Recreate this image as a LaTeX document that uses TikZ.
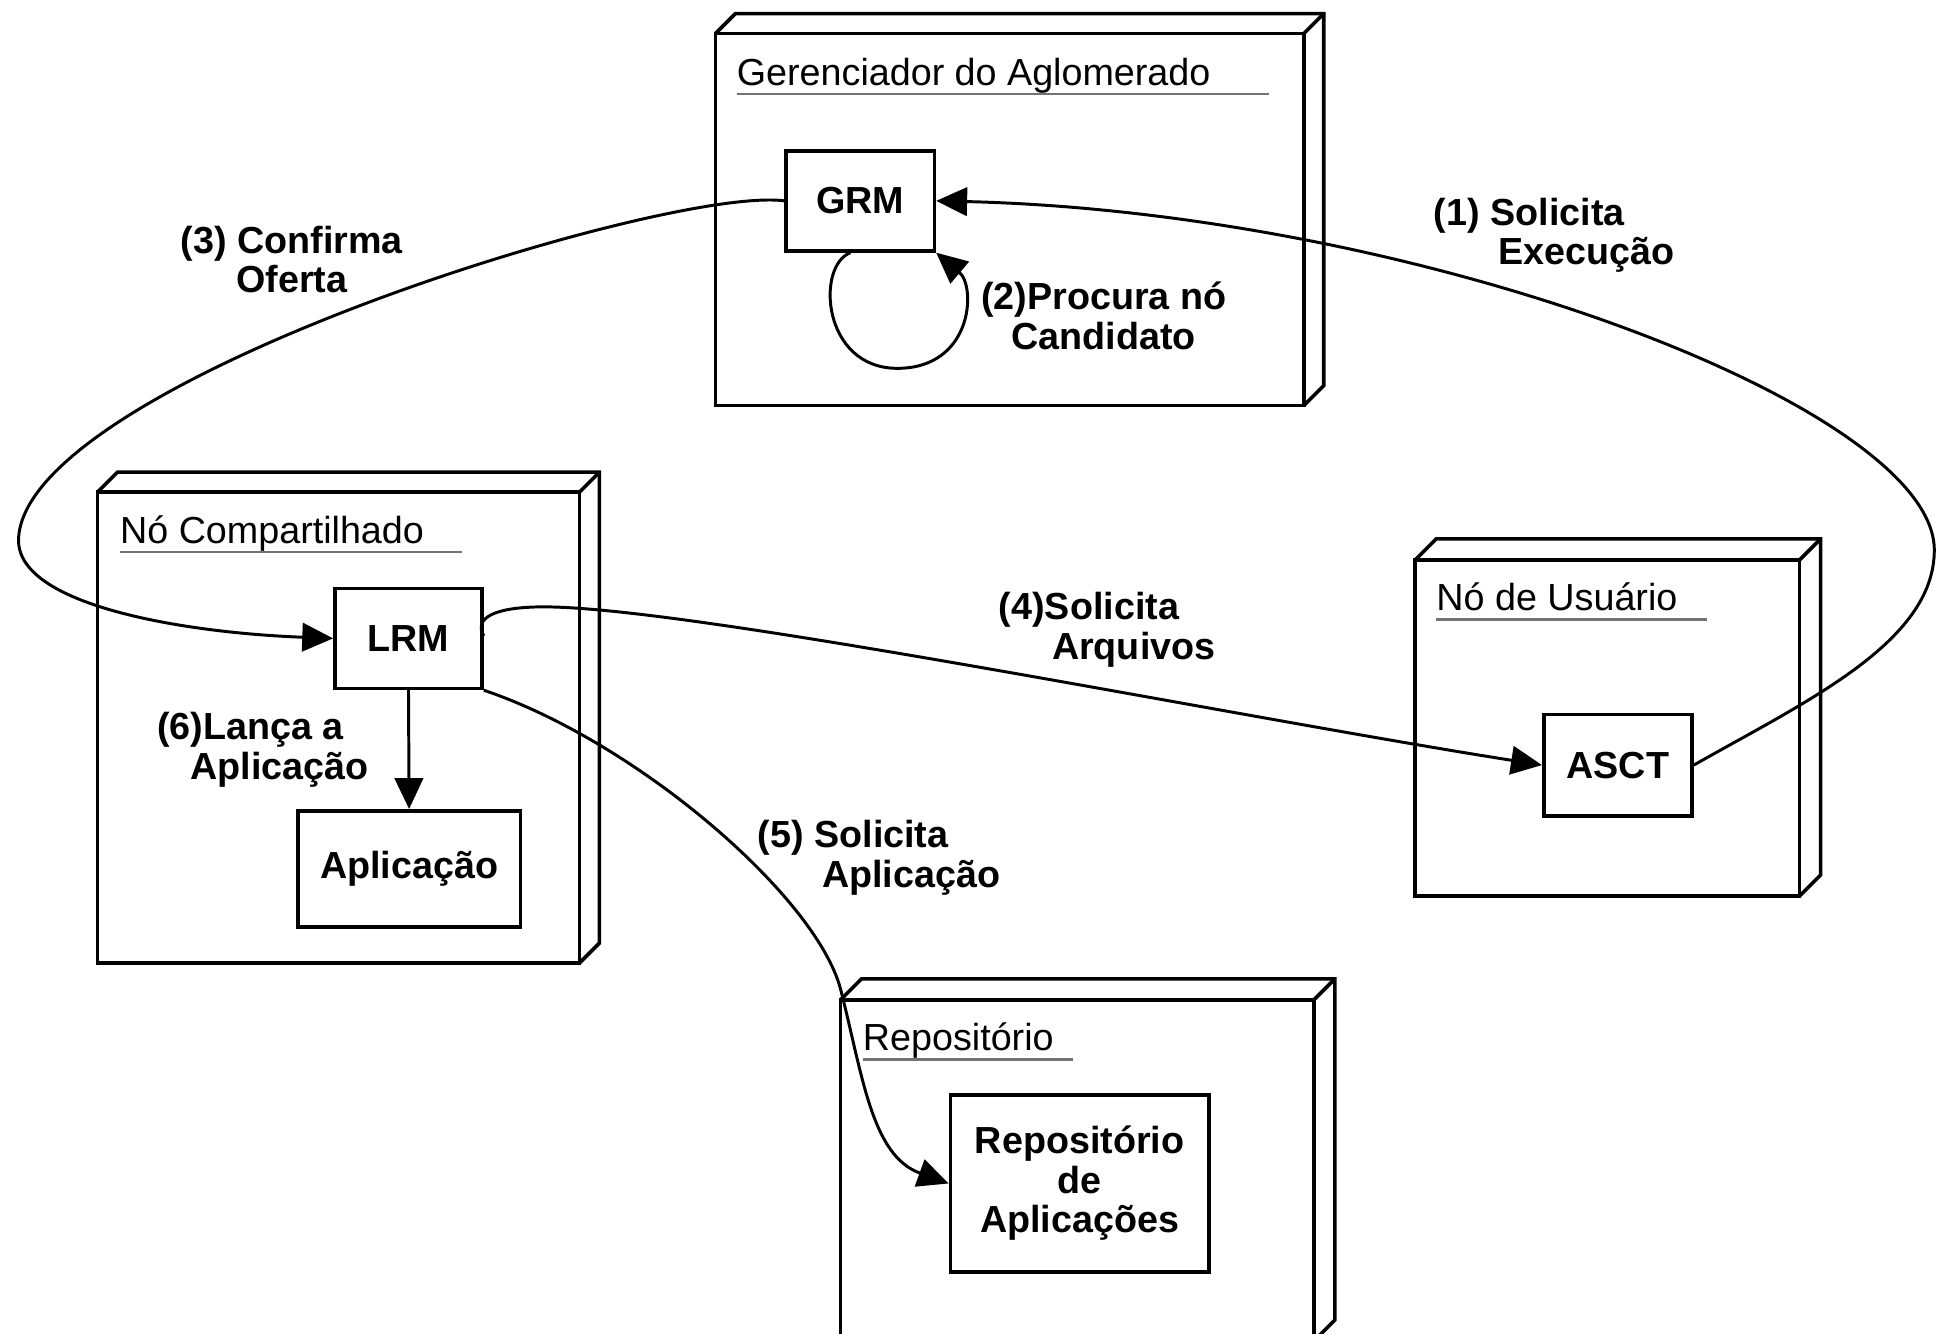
\documentclass[tikz,border=0pt]{standalone}
\usepackage{fontspec}
\setmainfont{Liberation Sans}
\usetikzlibrary{arrows.meta,calc}
\newcommand\depthbox[2]{%
  \draw[boxline] (#1.north west) -- ++(#2,-#2) -- ($(#1.north east)+(#2,-#2)$) -- ($(#1.south east)+(#2,-#2)$) -- (#1.south east);
  \draw[boxline] ($(#1.north east)+(#2,-#2)$) -- (#1.north east);
}
\begin{document}
\begin{tikzpicture}[x=1pt,y=-1pt,
  every node/.style={font=\fontsize{30.5}{32}\selectfont},
  boxline/.style={line width=2.9pt},
  container/.style={draw, line width=2.9pt, rectangle, inner sep=0pt, outer sep=0pt},
  comp/.style={draw, line width=2.9pt, rectangle, inner sep=0pt, font=\fontsize{30.5}{32}\selectfont\bfseries, align=center},
  title/.style={anchor=base west, inner sep=0pt},
  uline/.style={line width=2.2pt, draw=black!55},
  lbl/.style={font=\fontsize{30.5}{32}\selectfont\bfseries, inner sep=0pt},
  conn/.style={line width=2.4pt, -{Triangle[length=25pt,width=23pt]}}
]
\useasboundingbox (0,0) rectangle (1568,1079);

% containers
\node[container, minimum width=476pt, minimum height=301pt] (ger) at (817,177.5) {};
\depthbox{ger}{16}
\node[title] (gert) at (596,69) {Gerenciador do Aglomerado};
\draw[uline] ($(gert.base west)+(0,7)$) -- ++(431,0);

\node[container, minimum width=390pt, minimum height=381pt] (nc) at (274,588.5) {};
\depthbox{nc}{16}
\node[title] (nct) at (97,439.5) {Nó Compartilhado};
\draw[uline] ($(nct.base west)+(0,7)$) -- ++(277,0);

\node[container, minimum width=311pt, minimum height=272pt] (nu) at (1300.5,589) {};
\depthbox{nu}{17}
\node[title] (nut) at (1162,494) {Nó de Usuário};
\draw[uline] ($(nut.base west)+(0,7)$) -- ++(219,0);

\node[container, minimum width=383pt, minimum height=276pt] (rep) at (871.5,947) {};
\depthbox{rep}{17}
\node[title] (rept) at (698,850) {Repositório};
\draw[uline] ($(rept.base west)+(0,7)$) -- ++(170,0);

% components
\node[comp, minimum width=120pt, minimum height=81pt] (GRM) at (696,162.5) {GRM};
\node[comp, minimum width=119pt, minimum height=81pt] (LRM) at (330.5,516.5) {LRM};
\node[comp, minimum width=180pt, minimum height=94pt] (APP) at (331,703) {Aplicação};
\node[comp, minimum width=120pt, minimum height=82pt] (ASCT) at (1309,619) {ASCT};
\node[comp, minimum width=209pt, minimum height=143pt] (RA) at (873.5,957.5) {Repositório\\de\\Aplicações};

% connectors
\draw[conn] (ASCT.east) .. controls (1460,568) and (1565,520) .. (1565,445) .. controls (1565,330) and (1150,172) .. (GRM.east);
\draw[conn] ($(GRM.south)+(-8,0)$) .. controls (660,215) and (665,298) .. (726,298) .. controls (787,298) and (790,232) .. (GRM.south east);
\draw[conn] (GRM.west) .. controls (540,150) and (20,310) .. (15,436) .. controls (13,490) and (150,512) .. (LRM.west);
\draw[conn] ($(LRM.east)+(0,-2)$) .. controls (383,500) and (400,491) .. (440,491) .. controls (560,491) and (1000,580) .. (ASCT.west);
\draw[conn] (LRM.south east) .. controls (515,600) and (660,725) .. (680,800) .. controls (698,870) and (705,935) .. (RA.west);
\draw[conn] (LRM.south) -- (APP.north);

% labels
\node[lbl, anchor=west, align=left] (l1) at (1160,190.5) {(1) Solicita\\\hspace*{52pt}Execução};
\node[lbl, align=center] (l2) at (893,255.5) {(2)Procura nó\\Candidato};
\node[lbl, align=center] (l3) at (236,210) {(3) Confirma\\Oferta};
\node[lbl, anchor=west, align=left] (l4) at (808,509.5) {(4)Solicita\\\hspace*{43pt}Arquivos};
\node[lbl, anchor=west, align=left] (l5) at (613,694) {(5) Solicita\\\hspace*{52pt}Aplicação};
\node[lbl, anchor=west, align=left] (l6) at (127,606.5) {(6)Lança a\\\hspace*{27pt}Aplicação};
\end{tikzpicture}
\end{document}
